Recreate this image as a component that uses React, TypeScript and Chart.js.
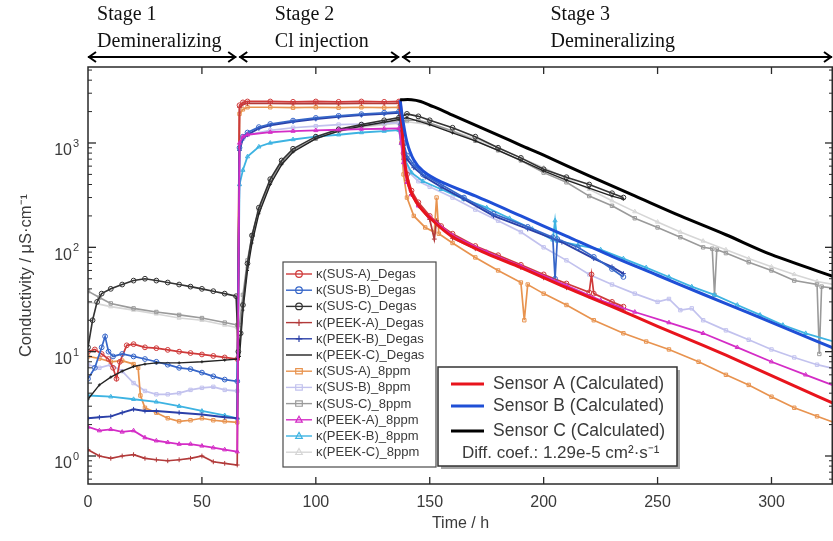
import React, { useEffect, useRef } from 'react';
import { Chart, registerables } from 'chart.js';
Chart.register(...registerables);

// ---------- axis / annotation values ----------
const xTickValues = [0, 50, 100, 150, 200, 250, 300];
const yDecades = [1, 10, 100, 1000];
const yExponents = ['0', '1', '2', '3'];
const stageBounds = [0, 65.5, 137, 330];
const stageNames = ['Stage 1', 'Stage 2', 'Stage 3'];
const stageDescs = ['Demineralizing', 'Cl injection', 'Demineralizing'];
const stageLabelT = [4, 82, 203];

// ---------- measured series (time h, conductivity µS/cm) ----------
const susADegasT = [0,3,6,9,11,12.5,14,17,20,25,30,35,40,45,50,55,60,65.5,66.5,68,70,80,90,100,110,120,130,136.5,137.5,138.5,140,142,145,150,155,160,170,180,190,200,210,220,221,222,230,235];
const susADegasV = [10,10.5,9.5,8.5,7,5.5,8,11.5,11.8,11,10.8,10.4,10,9.7,9.4,9.1,8.8,8.5,2300,2450,2500,2500,2480,2500,2480,2500,2480,2500,1500,800,500,350,270,200,160,135,103,84,68,55,45,37,55,36,30,27];

const susBDegasT = [0,3,6,7.5,9,11,15,20,25,30,35,40,45,50,55,60,65.5,66.5,68,70,75,80,90,100,110,120,130,136.5,137.5,138.5,140,143,147,155,165,178,193,204,205,206,215,222,230,235];
const susBDegasV = [5.5,7,11,14,10,9,9.5,9,8.5,8,7.5,7,6.8,6.3,5.8,5.4,5.2,900,1150,1260,1420,1520,1640,1740,1820,1890,1950,2000,1500,1000,760,620,500,400,300,210,157,125,50,120,100,81,62,52];

const susCDegasT = [0,2,4,6,10,15,20,25,30,35,40,45,50,55,60,65,66,67,68,70,72,75,80,85,90,100,110,120,130,136.5,140,145,150,160,170,180,190,200,210,220,230,235];
const susCDegasV = [11,20,30,36,40,44,48,50,48,46,44,42,40,38,36,34,10,15,28,70,130,240,450,680,880,1150,1350,1500,1650,1750,1900,1800,1650,1400,1150,900,720,560,470,400,330,300];

const peekADegasT = [0,5,10,15,20,25,30,35,40,45,50,55,60,65.5,66.5,68,70,80,90,100,110,120,130,136.5,137.5,138.5,140,142,145,150,152,153,160,170,180,190,200,210,220,230,235];
const peekADegasV = [1.15,1.0,0.95,1.0,1.03,0.95,0.92,0.9,0.92,0.95,1.0,0.88,0.85,0.82,2200,2350,2400,2400,2380,2400,2380,2400,2390,2400,1300,700,440,320,250,185,120,180,122,97,80,64,51,41,34,28,25];

const peekBDegasT = [0,5,10,15,20,25,30,40,50,60,65.5,66.5,68,70,75,80,90,100,110,120,130,136.5,137.5,138.5,140,143,148,155,165,178,193,208,222,230,235];
const peekBDegasV = [2.3,2.35,2.4,2.6,2.8,2.7,2.7,2.6,2.5,2.35,2.3,850,1100,1200,1380,1480,1600,1700,1780,1850,1900,1950,1400,950,700,580,470,380,290,200,150,112,78,65,56];

const peekCDegasT = [0,5,10,15,20,25,30,40,50,60,65.5,66.5,68,70,72,75,80,85,90,100,110,120,130,136.5,140,150,160,170,180,190,200,210,220,230,235];
const peekCDegasV = [3.5,4.8,5.7,6.5,7.2,7.6,7.8,7.8,8,8.3,8.5,9,25,60,110,210,400,620,820,1100,1300,1450,1580,1680,1750,1500,1250,1050,850,680,540,440,370,310,290];

const susA8ppmT = [0,5,10,15,20,22,23,25,30,35,40,45,50,55,60,65.5,66.5,68,70,80,90,100,110,120,130,136.5,137.5,138.5,140,143,148,152,153,154,160,170,180,190,191.5,193,200,210,222,235,245,255,268,280,290,300,310,320,330];
const susA8ppmV = [9,8.6,8,8.2,7.6,7,3.8,2.9,2.6,2.3,2.15,2.2,2.3,2.2,2.15,2.1,1900,2100,2200,2200,2180,2200,2180,2200,2180,2200,1000,500,300,200,155,140,300,135,110,80,60,46,20,44,36,28,20,15,12.5,10.5,8,6,4.8,3.7,2.9,2.4,2.0];

const susB8ppmT = [0,5,10,15,20,25,30,35,40,45,50,55,60,65.5,66.5,68,70,80,90,100,110,120,130,136.5,137.5,138.5,141,145,150,160,170,180,190,200,210,220,230,240,250,255,260,265,270,280,290,300,310,320,330];
const susB8ppmV = [7.5,7,7.5,6.5,5,4.2,3.9,3.9,4.0,4.3,4.5,4.6,4.3,4.2,900,1100,1200,1320,1400,1450,1500,1520,1550,1550,1100,750,520,430,380,300,230,180,140,100,75,55,44,36,30,32,25,26,20,16,13,10.5,8.8,7.5,6.7];

const susC8ppmT = [0,5,10,20,30,40,50,60,65.5,66.5,68,70,72,75,80,85,90,100,110,120,130,136.5,140,145,150,160,170,180,190,200,210,220,230,240,250,260,270,274,275,276,280,290,300,310,320,321,322,330];
const susC8ppmV = [38,33,29,26,24,22.5,21,19,18,18,35,75,130,230,430,650,850,1100,1300,1450,1550,1600,1650,1650,1550,1300,1050,850,680,520,420,310,250,190,155,125,100,97,35,95,88,72,60,48,44,9.5,42,40];

const peekA8ppmT = [0,5,10,15,20,25,30,35,40,45,50,55,60,65.5,66.5,68,70,80,90,100,110,120,130,136.5,137.5,138.5,140,142,145,150,160,175,190,210,225,240,255,270,285,300,315,330];
const peekA8ppmV = [1.9,1.75,1.8,1.7,1.75,1.5,1.4,1.35,1.3,1.3,1.25,1.2,1.15,1.1,1000,1150,1200,1270,1300,1320,1340,1360,1370,1380,1000,650,420,320,250,195,130,90,66,43,31,24,19,15,11,8,6,4.5];

const peekB8ppmT = [0,10,20,30,40,50,60,65.5,66.5,68,70,75,80,90,100,110,120,130,136.5,137.5,139,142,147,155,165,175,185,195,204,205,206,215,225,235,245,255,265,275,285,295,305,315,330];
const peekB8ppmV = [3.8,3.7,3.5,3.3,3.0,2.7,2.45,2.3,400,550,740,920,1000,1080,1150,1200,1260,1300,1330,1000,700,520,430,360,290,240,190,150,118,180,115,105,95,78,64,52,42,35,28,22.5,18,15,12];

const peekC8ppmT = [0,10,20,30,40,50,60,65.5,66.5,68,70,72,75,80,85,90,100,110,120,130,136.5,140,150,160,170,180,190,200,210,220,230,240,250,260,270,280,290,300,310,320,330];
const peekC8ppmV = [30,27,25,23,21,20,18,17,17,30,65,120,220,420,640,840,1100,1300,1420,1500,1550,1600,1500,1300,1100,900,720,580,460,360,280,220,175,140,115,95,78,65,55,47,43];

// ---------- calculated curves ----------
const sensorAT = [137,138,139,141,144,150,160,175,190,210,230,250,270,290,310,330];
const sensorAV = [2600,1271,657,379,272,192,126,87,64,41,27,17.5,11.5,7.4,4.7,3.0];
const sensorBT = [137,138,140,143,147,155,170,190,210,230,250,270,290,310,330];
const sensorBV = [2600,1767,1020,687,539,423,311,200,128,82,54,35.5,23.5,15.5,10.2];
const sensorCT = [137,142,146,150,155,160,170,180,190,200,220,240,260,280,300,330];
const sensorCV = [2600,2600,2500,2300,2080,1850,1480,1190,950,766,483,311,200,132,85,50];

type Measured = { label: string; t: number[]; v: number[]; color: string; marker: string; lw: number };

const measuredSeries: Measured[] = [
  { label: 'κ(SUS-A)_Degas', t: susADegasT, v: susADegasV, color: '#cf3a3a', marker: 'circle', lw: 1.7 },
  { label: 'κ(SUS-B)_Degas', t: susBDegasT, v: susBDegasV, color: '#3565c8', marker: 'circle', lw: 1.7 },
  { label: 'κ(SUS-C)_Degas', t: susCDegasT, v: susCDegasV, color: '#333333', marker: 'circle', lw: 1.6 },
  { label: 'κ(PEEK-A)_Degas', t: peekADegasT, v: peekADegasV, color: '#b23a3a', marker: 'cross', lw: 1.7 },
  { label: 'κ(PEEK-B)_Degas', t: peekBDegasT, v: peekBDegasV, color: '#2b40a8', marker: 'cross', lw: 1.9 },
  { label: 'κ(PEEK-C)_Degas', t: peekCDegasT, v: peekCDegasV, color: '#222222', marker: 'line', lw: 1.4 },
  { label: 'κ(SUS-A)_8ppm', t: susA8ppmT, v: susA8ppmV, color: '#e8934f', marker: 'rect', lw: 1.7 },
  { label: 'κ(SUS-B)_8ppm', t: susB8ppmT, v: susB8ppmV, color: '#c2c2ee', marker: 'rect', lw: 1.7 },
  { label: 'κ(SUS-C)_8ppm', t: susC8ppmT, v: susC8ppmV, color: '#9a9a9a', marker: 'rect', lw: 1.6 },
  { label: 'κ(PEEK-A)_8ppm', t: peekA8ppmT, v: peekA8ppmV, color: '#d42cc6', marker: 'triangle', lw: 1.8 },
  { label: 'κ(PEEK-B)_8ppm', t: peekB8ppmT, v: peekB8ppmV, color: '#3db3e2', marker: 'triangle', lw: 1.8 },
  { label: 'κ(PEEK-C)_8ppm', t: peekC8ppmT, v: peekC8ppmV, color: '#d6d6d6', marker: 'triangle', lw: 1.6 },
];

const calcSeries = [
  { label: 'Sensor A (Calculated)', t: sensorAT, v: sensorAV, color: '#e8141c' },
  { label: 'Sensor B (Calculated)', t: sensorBT, v: sensorBV, color: '#1f4fd6' },
  { label: 'Sensor C (Calculated)', t: sensorCT, v: sensorCV, color: '#000000' },
];
const diffCoefText = 'Diff. coef.: 1.29e-5 cm²·s⁻¹';

// drawing order (first = on top)
const measuredOrder = [9, 2, 5, 1, 4, 0, 3, 10, 6, 7, 8, 11];

const toPts = (t: number[], v: number[]) => t.map((x, i) => ({ x, y: v[i] }));

const SANS = '"Liberation Sans", Arial, sans-serif';
const SERIF = '"Liberation Serif", "Times New Roman", serif';

function drawMarker(ctx: CanvasRenderingContext2D, style: string, x: number, y: number, r: number, color: string) {
  ctx.save();
  ctx.strokeStyle = color;
  ctx.lineWidth = 1.2;
  ctx.beginPath();
  if (style === 'circle') {
    ctx.arc(x, y, r, 0, Math.PI * 2);
  } else if (style === 'cross') {
    ctx.moveTo(x - r, y); ctx.lineTo(x + r, y);
    ctx.moveTo(x, y - r); ctx.lineTo(x, y + r);
  } else if (style === 'rect') {
    ctx.rect(x - r, y - r * 0.8, r * 2, r * 1.6);
  } else if (style === 'triangle') {
    ctx.moveTo(x, y - r * 1.1); ctx.lineTo(x + r, y + r * 0.7); ctx.lineTo(x - r, y + r * 0.7); ctx.closePath();
  }
  ctx.stroke();
  ctx.restore();
}

const decorPlugin = {
  id: 'decor',
  afterDraw(chart: any) {
    const { ctx, chartArea: ca, scales } = chart;
    const xs = scales.x, ys = scales.y;
    ctx.save();
    const line = (x1: number, y1: number, x2: number, y2: number) => {
      ctx.beginPath(); ctx.moveTo(x1, y1); ctx.lineTo(x2, y2); ctx.stroke();
    };
    // frame
    ctx.strokeStyle = '#2a2a2a';
    ctx.lineWidth = 1.5;
    ctx.strokeRect(ca.left, ca.top, ca.right - ca.left - 0.75, ca.bottom - ca.top);
    // x ticks (inward, bottom & top)
    ctx.lineWidth = 1.3;
    for (const v of xTickValues) {
      const px = xs.getPixelForValue(v);
      if (v === 0) continue;
      line(px, ca.bottom, px, ca.bottom - 7);
      line(px, ca.top, px, ca.top + 7);
    }
    // y ticks (major + minor, left & right)
    const yMin = ys.min, yMax = ys.max;
    for (let d = -1; d <= 4; d++) {
      for (let m = 1; m <= 9; m++) {
        const v = m * Math.pow(10, d);
        if (v < yMin || v > yMax) continue;
        const py = ys.getPixelForValue(v);
        const len = m === 1 ? 8 : 4;
        ctx.lineWidth = m === 1 ? 1.3 : 1;
        line(ca.left, py, ca.left + len, py);
        line(ca.right, py, ca.right - len, py);
      }
    }
    // y tick labels with superscript exponent
    ctx.fillStyle = '#3a3a3a';
    yDecades.forEach((v, i) => {
      const py = ys.getPixelForValue(v);
      ctx.font = `16px ${SANS}`;
      ctx.textAlign = 'right';
      ctx.textBaseline = 'middle';
      ctx.fillText('10', ca.left - 16, py + 8);
      ctx.font = `11px ${SANS}`;
      ctx.textAlign = 'left';
      ctx.fillText(yExponents[i], ca.left - 15, py + 1);
    });

    // stage arrows & labels
    ctx.strokeStyle = '#000';
    ctx.fillStyle = '#111';
    ctx.lineWidth = 2;
    const ay = ca.top - 10;
    for (let i = 0; i < 3; i++) {
      const x1 = xs.getPixelForValue(stageBounds[i]) + (i === 0 ? 0 : 2);
      const x2 = Math.min(xs.getPixelForValue(stageBounds[i + 1]) - 1, ca.right - 1);
      line(x1, ay, x2, ay);
      ctx.beginPath();
      ctx.moveTo(x1 + 8, ay - 5); ctx.lineTo(x1 + 1, ay); ctx.lineTo(x1 + 8, ay + 5);
      ctx.moveTo(x2 - 8, ay - 5); ctx.lineTo(x2 - 1, ay); ctx.lineTo(x2 - 8, ay + 5);
      ctx.stroke();
      const tx = xs.getPixelForValue(stageLabelT[i]);
      ctx.font = `20px ${SERIF}`;
      ctx.textAlign = 'left';
      ctx.textBaseline = 'middle';
      ctx.fillText(stageNames[i], tx, 15);
      ctx.fillText(stageDescs[i], tx, 42);
    }

    // legend 1 (measured)
    const l1x = 283, l1y = 262, l1w = 153, l1h = 205;
    ctx.fillStyle = '#fff';
    ctx.fillRect(l1x, l1y, l1w, l1h);
    ctx.strokeStyle = '#4a4a4a';
    ctx.lineWidth = 1.2;
    ctx.strokeRect(l1x, l1y, l1w, l1h);
    measuredSeries.forEach((s, i) => {
      const ry = l1y + 12 + i * 16.2;
      ctx.strokeStyle = s.color;
      ctx.lineWidth = 1.4;
      line(l1x + 3, ry, l1x + 29, ry);
      drawMarker(ctx, s.marker, l1x + 16, ry, 3.3, s.color);
      ctx.fillStyle = '#3a3a3a';
      ctx.font = `13px ${SANS}`;
      ctx.textAlign = 'left';
      ctx.textBaseline = 'middle';
      ctx.fillText(s.label, l1x + 33, ry + 0.5);
    });

    // legend 2 (calculated)
    const l2x = 438, l2y = 367, l2w = 239, l2h = 99;
    ctx.fillStyle = 'rgba(0,0,0,0.35)';
    ctx.fillRect(l2x + 3, l2y + 3, l2w, l2h);
    ctx.fillStyle = '#fff';
    ctx.fillRect(l2x, l2y, l2w, l2h);
    ctx.strokeStyle = '#333';
    ctx.lineWidth = 1.5;
    ctx.strokeRect(l2x, l2y, l2w, l2h);
    const rowY = [384, 406, 431];
    calcSeries.forEach((s, i) => {
      ctx.strokeStyle = s.color;
      ctx.lineWidth = 3;
      line(l2x + 13, rowY[i], l2x + 46, rowY[i]);
      ctx.fillStyle = '#3a3a3a';
      ctx.font = `17.5px ${SANS}`;
      ctx.textAlign = 'left';
      ctx.textBaseline = 'middle';
      ctx.fillText(s.label, l2x + 55, rowY[i]);
    });
    ctx.font = `17px ${SANS}`;
    ctx.fillText(diffCoefText, l2x + 24, 453);
    ctx.restore();
  },
};

export default function App() {
  const ref = useRef<HTMLCanvasElement | null>(null);
  useEffect(() => {
    if (!ref.current) return;
    const datasets: any[] = [];
    calcSeries.slice().reverse().forEach((s) => {
      datasets.push({
        label: s.label,
        data: toPts(s.t, s.v),
        borderColor: s.color,
        borderWidth: 3,
        pointRadius: 0,
        tension: 0.3,
        fill: false,
      });
    });
    measuredOrder.forEach((idx) => {
      const s = measuredSeries[idx];
      datasets.push({
        label: s.label,
        data: toPts(s.t, s.v),
        borderColor: s.color,
        borderWidth: s.lw,
        pointStyle: s.marker === 'line' ? 'cross' : s.marker,
        pointRadius: s.marker === 'line' ? 1.5 : 2.4,
        pointBorderWidth: 1,
        pointBorderColor: s.color,
        pointBackgroundColor: 'rgba(255,255,255,0)',
        tension: 0,
        fill: false,
      });
    });
    const chart = new Chart(ref.current, {
      type: 'line',
      data: { datasets },
      options: {
        animation: false,
        responsive: true,
        maintainAspectRatio: false,
        layout: { padding: { left: 0, right: 0, top: 67, bottom: 0 }, autoPadding: false } as any,
        plugins: { legend: { display: false }, tooltip: { enabled: false } },
        scales: {
          x: {
            type: 'linear',
            min: 0,
            max: 327,
            grid: { display: false },
            border: { display: false },
            afterBuildTicks: (s: any) => { s.ticks = xTickValues.map((v) => ({ value: v })); },
            afterFit: (s: any) => { s.height = 57; s.paddingLeft = 0; s.paddingRight = 0; },
            ticks: { color: '#3a3a3a', font: { family: SANS, size: 16 }, padding: 1, maxRotation: 0, autoSkip: false },
            title: { display: true, text: 'Time / h', color: '#3a3a3a', font: { family: SANS, size: 16 }, padding: { top: 0, bottom: 8 } },
          },
          y: {
            type: 'logarithmic',
            min: 0.539,
            max: 5350,
            grid: { display: false },
            border: { display: false },
            afterBuildTicks: (s: any) => { s.ticks = yDecades.map((v) => ({ value: v })); },
            afterFit: (s: any) => { s.width = 88; s.paddingTop = 0; s.paddingBottom = 0; },
            ticks: { display: false },
            title: { display: true, text: 'Conductivity / μS·cm⁻¹', color: '#3a3a3a', font: { family: SANS, size: 16.5 }, padding: { top: 17, bottom: 0 } },
          },
        },
      },
      plugins: [decorPlugin],
    });
    return () => chart.destroy();
  }, []);
  return (
    <div style={{ position: 'fixed', left: 0, top: 0, width: 833, height: 541, background: '#fff' }}>
      <canvas ref={ref} />
    </div>
  );
}
